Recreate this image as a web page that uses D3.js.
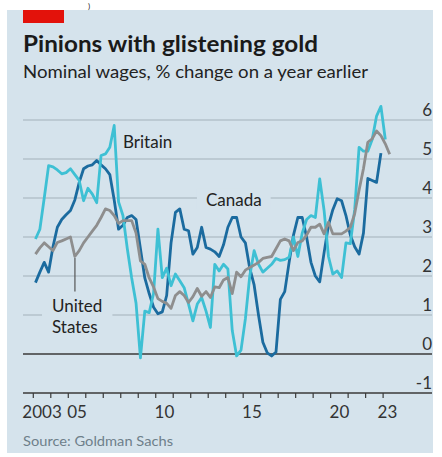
<!DOCTYPE html>
<html><head><meta charset="utf-8">
<script src="https://cdn.jsdelivr.net/npm/d3@7"></script>
<style>
body{margin:0;background:#fff}
svg{display:block}
text{font-family:Lato,"Open Sans",sans-serif}
</style>
</head><body>
<svg id="c" width="442" height="457"></svg>
<script>
// ---- data (quarterly, starting 2003 Q1) ----
const startYear = 2003;
const britain = [2.95,3.2,4.0,4.83,4.8,4.72,4.62,4.65,4.75,4.6,4.45,3.93,4.25,4.1,3.88,5.09,5.13,5.3,5.86,3.9,
  3.55,2.7,1.95,1.3,-0.1,1.1,1.06,1.55,3.2,1.96,2.2,1.75,2.05,1.88,1.7,1.28,0.85,1.28,1.45,1.1,
  0.68,2.3,2.13,2.3,2.18,0.6,-0.05,0.1,0.9,2.0,2.65,2.3,2.1,2.2,2.3,2.45,2.4,2.42,2.48,3.0,
  2.5,3.1,3.45,3.55,3.5,4.49,3.68,2.5,2.05,2.13,1.96,2.85,2.83,3.7,5.3,5.2,5.2,5.5,6.1,6.35,5.5];
const canada = [1.83,2.1,2.35,2.1,2.75,3.25,3.45,3.57,3.68,3.95,4.4,4.75,4.82,4.85,4.96,4.85,4.75,4.6,3.95,3.2,
  3.3,3.5,3.55,3.45,2.7,1.95,1.55,1.2,1.03,1.08,1.5,2.85,3.63,3.72,3.2,3.16,2.56,2.73,3.25,2.73,
  2.69,2.62,2.5,2.8,3.25,3.5,3.5,3.0,2.85,2.2,1.77,1.0,0.3,0.03,-0.05,0.05,1.4,1.6,2.35,3.05,
  3.5,3.5,3.0,2.35,2.0,1.85,2.6,3.3,3.7,3.98,3.93,3.55,3.05,2.75,2.56,3.1,4.5,4.45,4.4,5.15];
const unitedStates = [2.56,2.72,2.85,2.75,2.65,2.86,2.9,2.95,3.0,2.5,2.65,2.85,3.0,3.15,3.3,3.5,3.72,3.68,3.55,3.35,
  3.42,3.42,3.42,3.1,2.39,2.3,1.95,1.72,1.42,1.35,1.3,1.17,1.5,1.6,1.5,1.32,1.47,1.68,1.48,1.6,
  1.45,1.72,1.7,1.9,1.96,1.55,2.1,1.98,2.15,2.22,2.28,2.35,2.45,2.48,2.5,2.7,2.9,2.95,2.9,2.65,
  2.86,2.9,3.05,3.25,3.25,3.33,3.08,3.38,3.08,3.08,3.08,3.15,3.25,3.6,4.2,4.75,5.43,5.52,5.72,5.6,5.39,5.12];
const seriesNames = ["Canada","Britain","United States"];
const seriesColors = {"Canada":"#1b6b9f","Britain":"#3ec0d4","United States":"#8e8e8e"};
const yTicks = [-1,0,1,2,3,4,5,6];
const xTickYears = d3.range(2003, 2024);
const xLabelYears = [2003,2005,2010,2015,2020,2023];
const xLabels = ["2003","05","10","15","20","23"];

// quarter mid-points as decimal years
const qDate = i => startYear + 0.125 + 0.25*i;

const svg = d3.select("#c");
const BG = "#d5e3ec";

// panel
svg.append("rect").attr("x",7).attr("y",10).attr("width",426).attr("height",443).attr("fill",BG);
svg.append("text").attr("x",88).attr("y",9).attr("font-size",8).attr("fill","#222").text(")");
svg.append("rect").attr("x",23).attr("y",10).attr("width",41).attr("height",13).attr("fill","#e3120b");

const title = svg.append("text").attr("x",23).attr("y",52).attr("font-size",23.5).attr("font-weight",700)
  .attr("fill","#1a1a1a").text("Pinions with glistening gold");
const sub = svg.append("text").attr("x",23).attr("y",78).attr("font-size",18)
  .attr("fill","#222").text("Nominal wages, % change on a year earlier");
const src = svg.append("text").attr("x",23).attr("y",446).attr("font-size",14)
  .attr("fill","#6e7f8a").text("Source: Goldman Sachs");

function fit(sel, w){
  sel.attr("textLength", w).attr("lengthAdjust","spacingAndGlyphs");
}
fit(title, 295); fit(sub, 345); fit(src, 150);

// scales
const x = d3.scaleLinear().domain([2003, 2025]).range([33.3, 418.1]);
const y = d3.scaleLinear().domain([-1, 6]).range([393, 120]);
const gx0 = 23, gx1 = 432;

// gridlines
svg.append("g").selectAll("line").data(yTicks.filter(v=>v!==-1 && v!==0)).join("line")
  .attr("x1",gx0).attr("x2",gx1).attr("y1",d=>y(d)).attr("y2",d=>y(d))
  .attr("stroke","#b3c2cb").attr("stroke-width",1.3);

// y labels
svg.append("g").selectAll("text").data(yTicks).join("text")
  .attr("x",gx1).attr("y",d=>y(d)-4).attr("text-anchor","end").attr("font-size",17)
  .attr("fill","#333").text(d=>d);

// label backgrounds & labels
const labelG = svg.append("g");
function seriesLabel(lines, t, v, lh, pad){
  const g = labelG.append("g");
  lines.forEach((s,i)=> g.append("text").attr("x",x(t)).attr("y",y(v)+i*lh)
    .attr("font-size",17).attr("fill","#222").text(s));
  if(pad){
    const bb = g.node().getBBox();
    g.insert("rect","text").attr("x",bb.x-pad).attr("y",bb.y).attr("width",bb.width+2*pad)
      .attr("height",bb.height).attr("fill",BG);
  }
  return g;
}
seriesLabel(["Canada"], 2012.87, 3.8, 0, 9);
seriesLabel(["United","States"], 2004.07, 1.08, 21, 10);
seriesLabel(["Britain"], 2008.13, 5.28, 0, 0);

// leader line for US
svg.append("line").attr("x1",x(2005.38)).attr("x2",x(2005.38)).attr("y1",y(2.46)).attr("y2",y(1.6))
  .attr("stroke","#555").attr("stroke-width",1.2);

// zero line
svg.append("line").attr("x1",gx0).attr("x2",gx1).attr("y1",y(0)).attr("y2",y(0))
  .attr("stroke","#3a3a3a").attr("stroke-width",1.4);

// axis line and ticks
svg.append("line").attr("x1",gx0).attr("x2",gx1).attr("y1",y(-1)).attr("y2",y(-1))
  .attr("stroke","#3a3a3a").attr("stroke-width",1.4);
svg.append("g").selectAll("line").data(xTickYears).join("line")
  .attr("x1",d=>x(d)).attr("x2",d=>x(d)).attr("y1",y(-1)).attr("y2",y(-1)+5)
  .attr("stroke","#3a3a3a").attr("stroke-width",1.2);
svg.append("g").selectAll("text").data(xLabelYears).join("text")
  .attr("x",(d,i)=> i===xLabelYears.length-1 ? x(d+0.25) : x(d+0.5))
  .attr("text-anchor","middle")
  .attr("y",y(-1)+25).attr("font-size",17).attr("fill","#333").text((d,i)=>xLabels[i]);

// lines
const data = {"Canada":canada,"Britain":britain,"United States":unitedStates};
const line = d3.line().x((d,i)=>x(qDate(i))).y(d=>y(d)).curve(d3.curveLinear);
svg.append("g").selectAll("path").data(seriesNames).join("path")
  .attr("d",n=>line(data[n])).attr("fill","none").attr("stroke",n=>seriesColors[n])
  .attr("stroke-width",2.8).attr("stroke-linejoin","round");
</script>
</body></html>
